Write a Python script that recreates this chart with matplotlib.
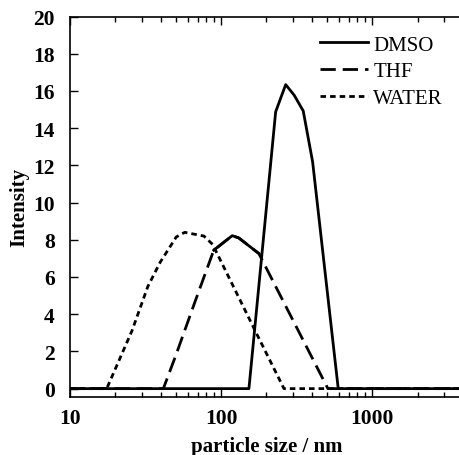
import numpy as np
import matplotlib
matplotlib.use("Agg")
import matplotlib.pyplot as plt
from matplotlib.ticker import FixedLocator, FuncFormatter, NullFormatter, LogLocator

# datos (tamaño en nm, intensidad en %)
dmso_size = [10, 153, 230, 268, 305, 350, 404, 597, 4000]
dmso_int = [0, 0, 14.88, 16.34, 15.77, 14.93, 12.19, 0, 0]

thf_size = [10, 41.5, 50, 67.8, 89.5, 118.6, 131, 178, 510, 4000]
thf_int = [0, 0, 1.75, 4.75, 7.44, 8.22, 8.1, 7.26, 0, 0]

water_size = [10, 17.5, 25.7, 32.8, 39.6, 50.5, 57.5, 77, 88, 174, 261, 4000]
water_int = [0, 0, 3.1, 5.5, 6.8, 8.15, 8.4, 8.2, 7.75, 2.87, 0, 0]

x_ticks = [10, 100, 1000]
y_ticks = list(range(0, 21, 2))

plt.rcParams['font.family'] = ['Liberation Serif', 'DejaVu Serif']

W, H = 459, 456
fig = plt.figure(figsize=(W / 100, H / 100), dpi=100)
# el eje se sale por la derecha, como en la figura original recortada
ax = fig.add_axes([70 / W, 1 - 398 / H, (463 - 70) / W, (398 - 17.5) / H])

lw = 2.0
ax.plot(dmso_size, dmso_int, color='black', lw=lw, label='DMSO')
l_thf, = ax.plot(thf_size, thf_int, color='black', lw=lw, label='THF')
l_thf.set_dashes((5.5, 2.5))
# el trozo del pico del THF sale continuo en el original
ax.plot(thf_size[4:8], thf_int[4:8], color='black', lw=lw)
l_w, = ax.plot(water_size, water_int, color='black', lw=lw, label='WATER')
l_w.set_dashes((2.0, 1.45))

ax.set_xscale('log')
ax.set_xlim(10, 4000)
ax.set_ylim(-0.45, 20)

ax.xaxis.set_major_locator(FixedLocator(x_ticks))
ax.xaxis.set_major_formatter(FuncFormatter(lambda v, p: '%d' % v))
ax.xaxis.set_minor_locator(LogLocator(base=10, subs=np.arange(2, 10)))
ax.xaxis.set_minor_formatter(NullFormatter())
ax.set_yticks(y_ticks)

ax.tick_params(axis='x', which='major', direction='in', length=6, width=1.0, top=True, pad=8)
ax.tick_params(axis='x', which='minor', direction='in', length=3.5, width=1.0, top=True)
ax.tick_params(axis='y', which='major', direction='in', length=6, width=1.0, pad=11)
for lab in ax.get_xticklabels() + ax.get_yticklabels():
    lab.set_fontsize(15.5)
    lab.set_fontweight('bold')

for s in ax.spines.values():
    s.set_linewidth(1.2)
ax.spines['right'].set_visible(False)

ax.set_xlabel('particle size / nm', fontsize=15, fontweight='bold', labelpad=6)
ax.set_ylabel('Intensity', fontsize=15, fontweight='bold', labelpad=3)

ax.legend(loc='upper left', bbox_to_anchor=(320 / W, 1 - 36 / H), bbox_transform=fig.transFigure,
          frameon=False, fontsize=15, handlelength=2.3, handletextpad=0.25,
          labelspacing=0.35, borderpad=0, borderaxespad=0)

fig.savefig('out.png', dpi=100)
